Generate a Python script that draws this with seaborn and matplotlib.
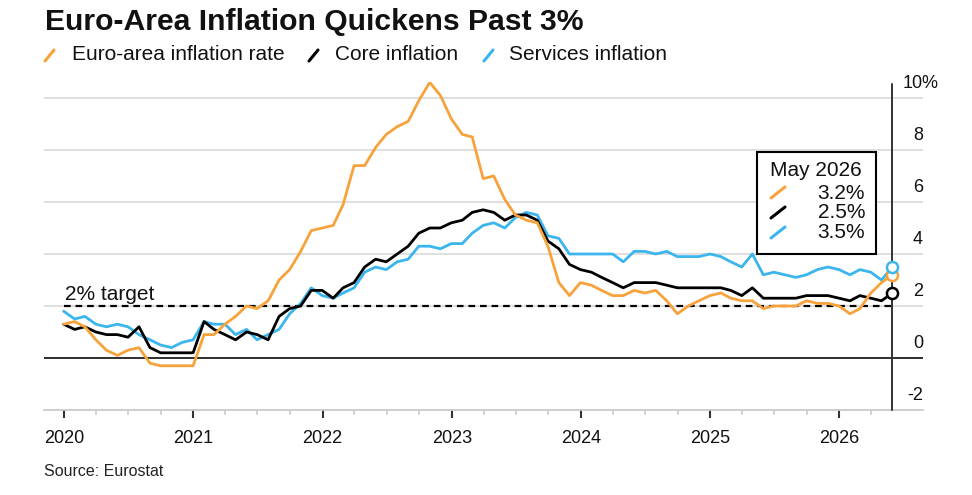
import matplotlib
matplotlib.use('Agg')
import matplotlib.pyplot as plt
import matplotlib.dates as mdates
import pandas as pd
import seaborn as sns
from matplotlib.lines import Line2D
from matplotlib.patches import Rectangle
from matplotlib.transforms import blended_transform_factory


# monthly values, Dec 2019 -> May 2026
headline = [1.3,
            1.4, 1.2, 0.7, 0.3, 0.1, 0.3, 0.4, -0.2, -0.3, -0.3, -0.3, -0.3,
            0.9, 0.9, 1.3, 1.6, 2.0, 1.9, 2.2, 3.0, 3.4, 4.1, 4.9, 5.0,
            5.1, 5.9, 7.4, 7.4, 8.1, 8.6, 8.9, 9.1, 9.9, 10.6, 10.1, 9.2,
            8.6, 8.5, 6.9, 7.0, 6.1, 5.5, 5.3, 5.2, 4.3, 2.9, 2.4, 2.9,
            2.8, 2.6, 2.4, 2.4, 2.6, 2.5, 2.6, 2.2, 1.7, 2.0, 2.2, 2.4,
            2.5, 2.3, 2.2, 2.2, 1.9, 2.0, 2.0, 2.0, 2.2, 2.1, 2.1, 2.0,
            1.7, 1.9, 2.5, 2.9, 3.2]
core = [1.3,
        1.1, 1.2, 1.0, 0.9, 0.9, 0.8, 1.2, 0.4, 0.2, 0.2, 0.2, 0.2,
        1.4, 1.1, 0.9, 0.7, 1.0, 0.9, 0.7, 1.6, 1.9, 2.0, 2.6, 2.6,
        2.3, 2.7, 2.9, 3.5, 3.8, 3.7, 4.0, 4.3, 4.8, 5.0, 5.0, 5.2,
        5.3, 5.6, 5.7, 5.6, 5.3, 5.5, 5.5, 5.3, 4.5, 4.2, 3.6, 3.4,
        3.3, 3.1, 2.9, 2.7, 2.9, 2.9, 2.9, 2.8, 2.7, 2.7, 2.7, 2.7,
        2.7, 2.6, 2.4, 2.7, 2.3, 2.3, 2.3, 2.3, 2.4, 2.4, 2.4, 2.3,
        2.2, 2.4, 2.3, 2.2, 2.5]
services = [1.8,
            1.5, 1.6, 1.3, 1.2, 1.3, 1.2, 0.9, 0.7, 0.5, 0.4, 0.6, 0.7,
            1.4, 1.3, 1.3, 0.9, 1.1, 0.7, 0.9, 1.1, 1.7, 2.1, 2.7, 2.4,
            2.3, 2.5, 2.7, 3.3, 3.5, 3.4, 3.7, 3.8, 4.3, 4.3, 4.2, 4.4,
            4.4, 4.8, 5.1, 5.2, 5.0, 5.4, 5.6, 5.5, 4.7, 4.6, 4.0, 4.0,
            4.0, 4.0, 4.0, 3.7, 4.1, 4.1, 4.0, 4.1, 3.9, 3.9, 3.9, 4.0,
            3.9, 3.7, 3.5, 4.0, 3.2, 3.3, 3.2, 3.1, 3.2, 3.4, 3.5, 3.4,
            3.2, 3.4, 3.3, 3.0, 3.5]

series_names = ['Euro-area inflation rate', 'Core inflation', 'Services inflation']
colors = {'Euro-area inflation rate': '#F7A23B',
          'Core inflation': '#000000',
          'Services inflation': '#3AB5EE'}
years = list(range(2020, 2027))
y_ticks = [-2, 0, 2, 4, 6, 8, 10]
target = 2
last_label = 'May 2026'

W, H = 972, 495


def fx(px):
    return px / W


def fy(py):
    return 1 - py / H


def main():
    sns.set_style('white')
    plt.rcParams['font.family'] = ['Liberation Sans', 'DejaVu Sans']

    dates = pd.date_range('2019-12-31', periods=len(headline), freq='ME')
    wide = pd.DataFrame({'date': dates,
                         series_names[0]: headline,
                         series_names[1]: core,
                         series_names[2]: services})
    df = wide.melt(id_vars='date', var_name='series', value_name='value')

    fig = plt.figure(figsize=(9.72, 4.95), dpi=100)
    ax = fig.add_axes([fx(44), fy(410), fx(923 - 44), (410 - 82.4) / H])

    sns.lineplot(data=df, x='date', y='value', hue='series',
                 hue_order=[series_names[2], series_names[1], series_names[0]],
                 palette=colors, linewidth=2.0, legend=False, ax=ax, zorder=4)

    # axes limits (2020 tick at x=64px, ~129.2 px per year)
    x0 = pd.Timestamp('2020-01-01')
    px_day = 129.2 / 365.25
    ax.set_xlim(mdates.date2num(x0 - pd.Timedelta(days=20 / px_day)),
                mdates.date2num(x0 + pd.Timedelta(days=859 / px_day)))
    ax.set_ylim(-2, 10.6)
    ax.set_xlabel('')
    ax.set_ylabel('')

    # grid + y labels on the right, above the lines
    ax.set_yticks(y_ticks)
    ax.set_yticklabels([])
    ax.tick_params(axis='y', length=0)
    ax.yaxis.grid(True, color='#dcdcdc', linewidth=1.3)
    ax.set_axisbelow(True)
    for s in ['top', 'right', 'left']:
        ax.spines[s].set_visible(False)
    ax.spines['bottom'].set_color('#cccccc')
    ax.spines['bottom'].set_linewidth(1.3)
    ax.axhline(0, color='#222222', linewidth=1.3, zorder=2)

    trans = blended_transform_factory(ax.transAxes, ax.transData)
    for v in y_ticks:
        ax.text(1.0, v + 0.55, str(v), transform=trans, ha='right', va='center',
                fontsize=13, color='#111111')
        if v == 10:
            ax.text(0.9985, v + 0.55, '%', transform=trans, ha='left', va='center',
                    fontsize=13, color='#111111')

    # x ticks
    major = [mdates.date2num(pd.Timestamp(f'{y}-01-01')) for y in years]
    minor = [mdates.date2num(d) for d in pd.date_range('2020-04-01', '2026-04-01', freq='QS')
             if d.month != 1]
    ax.set_xticks(major)
    ax.set_xticklabels([str(y) for y in years])
    ax.set_xticks(minor, minor=True)
    ax.tick_params(axis='x', which='both', bottom=True, direction='out')
    ax.tick_params(axis='x', which='major', length=5.5, width=1.5, color='#333333',
                   pad=9, labelsize=13, labelcolor='#111111')
    ax.tick_params(axis='x', which='minor', length=3.5, width=1.2, color='#cccccc')

    # 2% target line
    ax.plot([dates[0], dates[-1]], [target, target], color='black', linewidth=1.6,
            dashes=(3, 2.2), zorder=3)
    ax.text(dates[0] + pd.Timedelta(days=3), target + 0.45, '2% target',
            ha='left', va='center', fontsize=15, color='#111111')

    # latest value marker line + circles
    ax.plot([dates[-1], dates[-1]], [-2, 10.54], color='#333333', linewidth=1.4,
            clip_on=False, zorder=3)
    last_vals = {series_names[0]: headline[-1], series_names[1]: core[-1],
                 series_names[2]: services[-1]}
    for name in [series_names[1], series_names[0], series_names[2]]:
        ax.plot([dates[-1]], [last_vals[name]], 'o', ms=8, mfc='white',
                mec=colors[name], mew=1.8, zorder=6, clip_on=False)

    # title + top legend
    fig.text(fx(45), fy(30), 'Euro-Area Inflation Quickens Past 3%', fontsize=21.7,
             fontweight='bold', va='baseline', ha='left', color='#111111')
    leg_x = [(45, 72), (309, 335), (484, 509)]
    for (sx, tx), name in zip(leg_x, series_names):
        fig.add_artist(Line2D([fx(sx), fx(sx + 9)], [fy(61), fy(50)],
                              transform=fig.transFigure, color=colors[name], linewidth=2.2))
        fig.text(fx(tx), fy(55), name, fontsize=15, va='center', ha='left', color='#111111')

    # inline box with latest values
    fig.add_artist(Rectangle((fx(757), fy(254)), fx(876 - 757), (254 - 152) / H,
                             transform=fig.transFigure, facecolor='white',
                             edgecolor='black', linewidth=1.5, zorder=7))
    fig.text(fx(770), fy(170), last_label, fontsize=15, va='center', ha='left',
             color='#111111', zorder=8)
    for i, name in enumerate(series_names):
        yy = 193 + 20 * i
        fig.add_artist(Line2D([fx(771), fx(785)], [fy(yy + 5), fy(yy - 6)],
                              transform=fig.transFigure, color=colors[name],
                              linewidth=2.2, zorder=8))
        fig.text(fx(865), fy(yy), f'{last_vals[name]:.1f}%', fontsize=15,
                 va='center', ha='right', color='#111111', zorder=8)

    fig.text(fx(44), fy(471), 'Source: Eurostat', fontsize=11.5, va='center',
             ha='left', color='#222222')

    fig.savefig('out.png', dpi=100)


if __name__ == "__main__":
    main()
